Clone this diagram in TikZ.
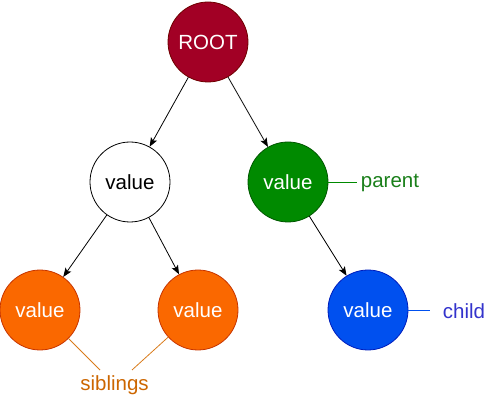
\documentclass[tikz,border=0pt]{standalone}
\usepackage{fontspec}
\setmainfont{Liberation Sans}
\usetikzlibrary{arrows.meta}
\definecolor{rootred}{HTML}{A20025}
\definecolor{rootline}{HTML}{6F0000}
\definecolor{parentgreen}{HTML}{008A00}
\definecolor{parentline}{HTML}{005700}
\definecolor{sibfill}{HTML}{FA6800}
\definecolor{sibline}{HTML}{C73500}
\definecolor{childblue}{HTML}{0050EF}
\definecolor{childline}{HTML}{001DBC}
\definecolor{sibtext}{HTML}{CC6600}
\definecolor{sibstroke}{HTML}{D97B1A}
\definecolor{childtext}{HTML}{3333CC}
\definecolor{parenttext}{HTML}{1A7F1A}

\begin{document}
\begin{tikzpicture}[
    x=1pt, y=-1pt,
    every node/.style={font=\fontsize{20.5}{24}\selectfont},
    treenode/.style={circle, draw, minimum size=80pt, inner sep=0pt, text=white, line width=0.8pt},
    edge/.style={-{Stealth[length=9pt,width=7pt,inset=2pt]}, line width=0.8pt},
    note/.style={line width=0.8pt}
]
\useasboundingbox (0,0) rectangle (499,401);

% tree nodes
\node[treenode, fill=rootred, draw=rootline] (root) at (208,42) {ROOT};
\node[treenode, fill=white, draw=black, text=black] (left) at (130,182) {value};
\node[treenode, fill=parentgreen, draw=parentline] (parent) at (288,182) {value};
\node[treenode, fill=sibfill, draw=sibline] (sibA) at (40,310) {value};
\node[treenode, fill=sibfill, draw=sibline] (sibB) at (198,310) {value};
\node[treenode, fill=childblue, draw=childline] (child) at (368,310) {value};

% edges
\draw[edge] (root) -- (left);
\draw[edge] (root) -- (parent);
\draw[edge] (left) -- (sibA);
\draw[edge] (left) -- (sibB);
\draw[edge] (parent) -- (child);

% labels
\node[text=parenttext] (parentlbl) at (390,183) {parent};
\node[text=childtext] (childlbl) at (464,311) {child};
\node[text=sibtext] (siblbl) at (114.5,385) {siblings};

\coordinate (parentend) at (357,182);
\coordinate (childend) at (430,310);
\coordinate (sibAend) at (100,370);
\coordinate (sibBend) at (132,370);

\draw[note, parentgreen] (parent) -- (parentend);
\draw[note, childblue] (child) -- (childend);
\draw[note, sibstroke] (sibA) -- (sibAend);
\draw[note, sibstroke] (sibB) -- (sibBend);
\end{tikzpicture}
\end{document}
